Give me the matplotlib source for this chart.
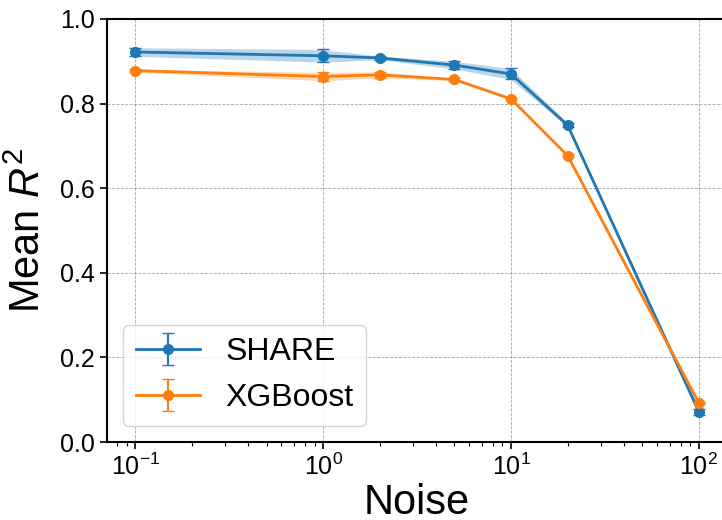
import numpy as np
import matplotlib
matplotlib.use('Agg')
import matplotlib.pyplot as plt

plt.rcParams['font.family'] = ['Liberation Sans', 'DejaVu Sans']
plt.rcParams['mathtext.fontset'] = 'custom'
plt.rcParams['mathtext.rm'] = 'Liberation Sans'
plt.rcParams['mathtext.it'] = 'Liberation Sans:italic'

# data
noise = [0.1, 1, 2, 5, 10, 20, 100]
share_mean = [0.922, 0.913, 0.908, 0.891, 0.870, 0.749, 0.071]
share_std = [0.010, 0.015, 0.004, 0.009, 0.013, 0.005, 0.008]
xgb_mean = [0.878, 0.864, 0.868, 0.857, 0.811, 0.677, 0.092]
xgb_std = [0.003, 0.010, 0.007, 0.003, 0.003, 0.003, 0.003]

fig = plt.figure(figsize=(7.22, 5.2), dpi=100)
ax = fig.add_axes([107 / 722, 78 / 520, 620 / 722, 423 / 520])

series = [("SHARE", share_mean, share_std, "#1f77b4"),
          ("XGBoost", xgb_mean, xgb_std, "#ff7f0e")]
for name, m, s, c in series:
    m = np.array(m)
    s = np.array(s)
    ax.errorbar(noise, m, yerr=s, color=c, marker='o', markersize=7,
                linewidth=2, capsize=4, elinewidth=1.5, label=name)
    ax.fill_between(noise, m - s, m + s, color=c, alpha=0.3, linewidth=0)

ax.set_xscale('log')
ax.set_xlim(0.0708, 141)
ax.set_ylim(0, 1.0)
ax.grid(True, which='major', linestyle='--', color='gray', linewidth=0.6, alpha=0.7)
ax.tick_params(axis='both', which='major', labelsize=18, length=5, width=1.2)
ax.tick_params(axis='x', which='minor', length=3, width=0.8)
for sp in ax.spines.values():
    sp.set_linewidth(1.5)

ax.set_xlabel("Noise", fontsize=30, labelpad=2)
ax.set_ylabel("Mean $R^2$", fontsize=30, labelpad=8)
ax.legend(loc='lower left', fontsize=23, handlelength=2.0)

fig.savefig("out.png", dpi=100)
